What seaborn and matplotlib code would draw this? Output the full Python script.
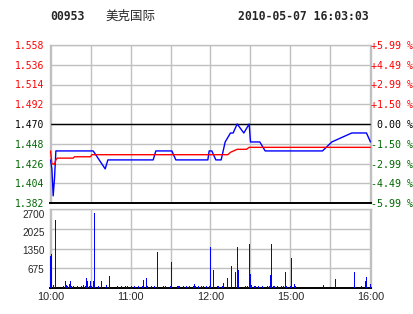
import matplotlib
matplotlib.use("Agg")
import matplotlib.pyplot as plt
import matplotlib.transforms as mtransforms
import seaborn as sns

# ---------------- data ----------------
code = "00953"
name = "美克国际"
stamp = "2010-05-07 16:03:03"
prev_close = 1.470

# minutes since 10:00 (trading minutes, lunch break removed)
blue_min = [0, 1, 2, 3, 4, 32, 41, 43, 77, 79, 91, 94, 118, 119, 121, 124, 128, 131,
            135, 137, 140, 145, 149, 150, 157, 161, 204, 211, 226, 237, 240]
blue_px = [1.43, 1.42, 1.39, 1.41, 1.44, 1.44, 1.42, 1.43, 1.43, 1.44, 1.44, 1.43, 1.43,
           1.44, 1.44, 1.43, 1.43, 1.45, 1.46, 1.46, 1.47, 1.46, 1.47, 1.45, 1.45, 1.44,
           1.44, 1.45, 1.46, 1.46, 1.45]

avg_min = [0, 1, 3, 4, 5, 17, 18, 30, 31, 133, 135, 140, 147, 149, 240]
avg_px = [1.440, 1.426, 1.425, 1.430, 1.432, 1.432, 1.4335, 1.4335, 1.4358, 1.4358,
          1.4385, 1.4418, 1.4418, 1.4440, 1.4440]

vol_min = [0, 1, 2, 4, 10, 11, 12, 13, 14, 15, 16, 17, 20, 23, 25, 26, 27, 28, 29, 30,
           31, 32, 33, 36, 38, 42, 44, 50, 53, 56, 58, 61, 63, 66, 69, 70, 72, 73, 76,
           78, 80, 85, 86, 90, 91, 95, 96, 97, 100, 102, 104, 107, 108, 109, 111, 113,
           115, 117, 119, 120, 122, 125, 126, 129, 130, 133, 136, 139, 140, 141, 146,
           148, 149, 150, 151, 153, 154, 156, 159, 163, 164, 165, 166, 167, 168, 170,
           173, 175, 176, 177, 180, 181, 183, 184, 205, 214, 228, 233, 236, 237, 240]
vol_val = [1110, 1170, 110, 2330, 80, 250, 110, 80, 150, 250, 80, 80, 80, 80, 110, 80,
           340, 250, 80, 250, 80, 250, 2570, 80, 250, 110, 420, 80, 80, 80, 80, 80, 80,
           80, 80, 280, 350, 80, 80, 80, 1240, 80, 80, 80, 900, 80, 80, 80, 80, 80, 80,
           80, 150, 80, 80, 80, 80, 80, 80, 1410, 625, 80, 80, 80, 180, 350, 760, 560,
           1410, 625, 80, 80, 1510, 490, 110, 80, 80, 80, 80, 80, 80, 455, 1510, 80, 80,
           80, 80, 80, 560, 80, 80, 1035, 150, 80, 110, 320, 560, 80, 250, 390, 150]

price_ticks = [1.382, 1.404, 1.426, 1.448, 1.470, 1.492, 1.514, 1.536, 1.558]
price_labels = ["1.382", "1.404", "1.426", "1.448", "1.470", "1.492", "1.514", "1.536", "1.558"]
pct_labels = ["-5.99 %", "-4.49 %", "-2.99 %", "-1.50 %", " 0.00 %", "+1.50 %", "+2.99 %",
              "+4.49 %", "+5.99 %"]
vol_ticks = [675, 1350, 2025, 2700]
vol_labels = ["675", "1350", "2025", "2700"]
grid_min = [0, 30, 60, 90, 120, 150, 180, 210, 240]
time_labels = ["10:00", "", "11:00", "", "12:00", "", "15:00", "", "16:00"]

# ---------------- style ----------------
sns.set_style("white")
plt.rcParams["font.family"] = ["DejaVu Sans", "Noto Sans CJK SC"]

RED = "#ff0000"
GREEN = "#006600"
GRID = "#c0c0c0"

fig = plt.figure(figsize=(4.14, 3.14), dpi=100)
ax1 = fig.add_axes([50 / 414, 1 - 203 / 314, 321 / 414, 158 / 314])
ax2 = fig.add_axes([50 / 414, 1 - 288 / 314, 321 / 414, 79 / 314])

XLIM = (-0.4, 240.4)

# ---------------- price panel ----------------
ax1.set_axisbelow(True)
sns.lineplot(x=blue_min, y=blue_px, ax=ax1, color="#0000ff", linewidth=1.0,
             estimator=None, sort=False, zorder=3)
sns.lineplot(x=avg_min, y=avg_px, ax=ax1, color=RED, linewidth=1.0,
             estimator=None, sort=False, zorder=4)
ax1.axhline(prev_close, color="black", linewidth=1.0, zorder=2)
ax1.set_xlim(XLIM)
ax1.set_ylim(price_ticks[0], price_ticks[-1])
ax1.set_yticks(price_ticks)
ax1.set_yticklabels(price_labels, family="DejaVu Sans Mono", fontsize=7)
ax1.set_xticks(grid_min)
ax1.set_xticklabels([])
ax1.grid(True, color=GRID, linewidth=1.0)
ax1.tick_params(axis="both", length=0)
ax1.tick_params(axis="y", pad=4)
for lab, v in zip(ax1.get_yticklabels(), price_ticks):
    lab.set_color(RED if v > prev_close + 1e-9 else ("black" if abs(v - prev_close) < 1e-9 else GREEN))
for s in ["left", "top", "right"]:
    ax1.spines[s].set_color(GRID)
    ax1.spines[s].set_linewidth(1.0)
ax1.spines["bottom"].set_color("black")
ax1.spines["bottom"].set_linewidth(1.4)
ax1.set_xlabel("")
ax1.set_ylabel("")

ax1r = ax1.twinx()
ax1r.set_ylim(price_ticks[0], price_ticks[-1])
ax1r.set_yticks(price_ticks)
ax1r.set_yticklabels(pct_labels, family="DejaVu Sans Mono", fontsize=7.2)
ax1r.tick_params(axis="y", length=0, pad=0)
for lab, v in zip(ax1r.get_yticklabels(), price_ticks):
    lab.set_color(RED if v > prev_close + 1e-9 else ("black" if abs(v - prev_close) < 1e-9 else GREEN))
for s in ax1r.spines.values():
    s.set_visible(False)
ax1r.set_ylabel("")

# ---------------- volume panel ----------------
ax2.set_axisbelow(True)
sns.histplot(x=vol_min, weights=vol_val, discrete=True, shrink=0.75, ax=ax2,
             color="#0000ff", alpha=1.0, linewidth=0, edgecolor="none", zorder=3)
ax2.set_xlim(XLIM)
ax2.set_ylim(0, 2700)
ax2.set_yticks(vol_ticks)
ax2.set_yticklabels(vol_labels, family="Liberation Sans", fontsize=7.2)
ax2.set_xticks(grid_min)
ax2.set_xticklabels(time_labels, family="Liberation Sans", fontsize=7.8)
ax2.grid(True, color=GRID, linewidth=1.0)
ax2.tick_params(axis="both", length=0)
ax2.tick_params(axis="y", pad=4)
ax2.tick_params(axis="x", pad=3)
for lab, dy in zip(ax2.get_yticklabels(), [1, 2, 3, 4.5]):
    off = mtransforms.ScaledTranslation(0, -dy / 100, fig.dpi_scale_trans)
    lab.set_transform(lab.get_transform() + off)
for s in ["left", "top", "right"]:
    ax2.spines[s].set_color(GRID)
    ax2.spines[s].set_linewidth(1.0)
ax2.spines["bottom"].set_color("black")
ax2.spines["bottom"].set_linewidth(1.4)
ax2.set_xlabel("")
ax2.set_ylabel("")

# ---------------- header ----------------
ty = 1 - 16 / 314
fig.text(50 / 414, ty, code, family="DejaVu Sans Mono", fontweight="bold",
         fontsize=8.3, va="center", ha="left")
fig.text(105 / 414, ty, name, family=["Noto Sans CJK SC", "DejaVu Sans"],
         fontsize=9, va="center", ha="left")
fig.text(238 / 414, ty, stamp, family="DejaVu Sans Mono", fontweight="bold",
         fontsize=8.3, va="center", ha="left")

fig.savefig("out.png", dpi=100)
